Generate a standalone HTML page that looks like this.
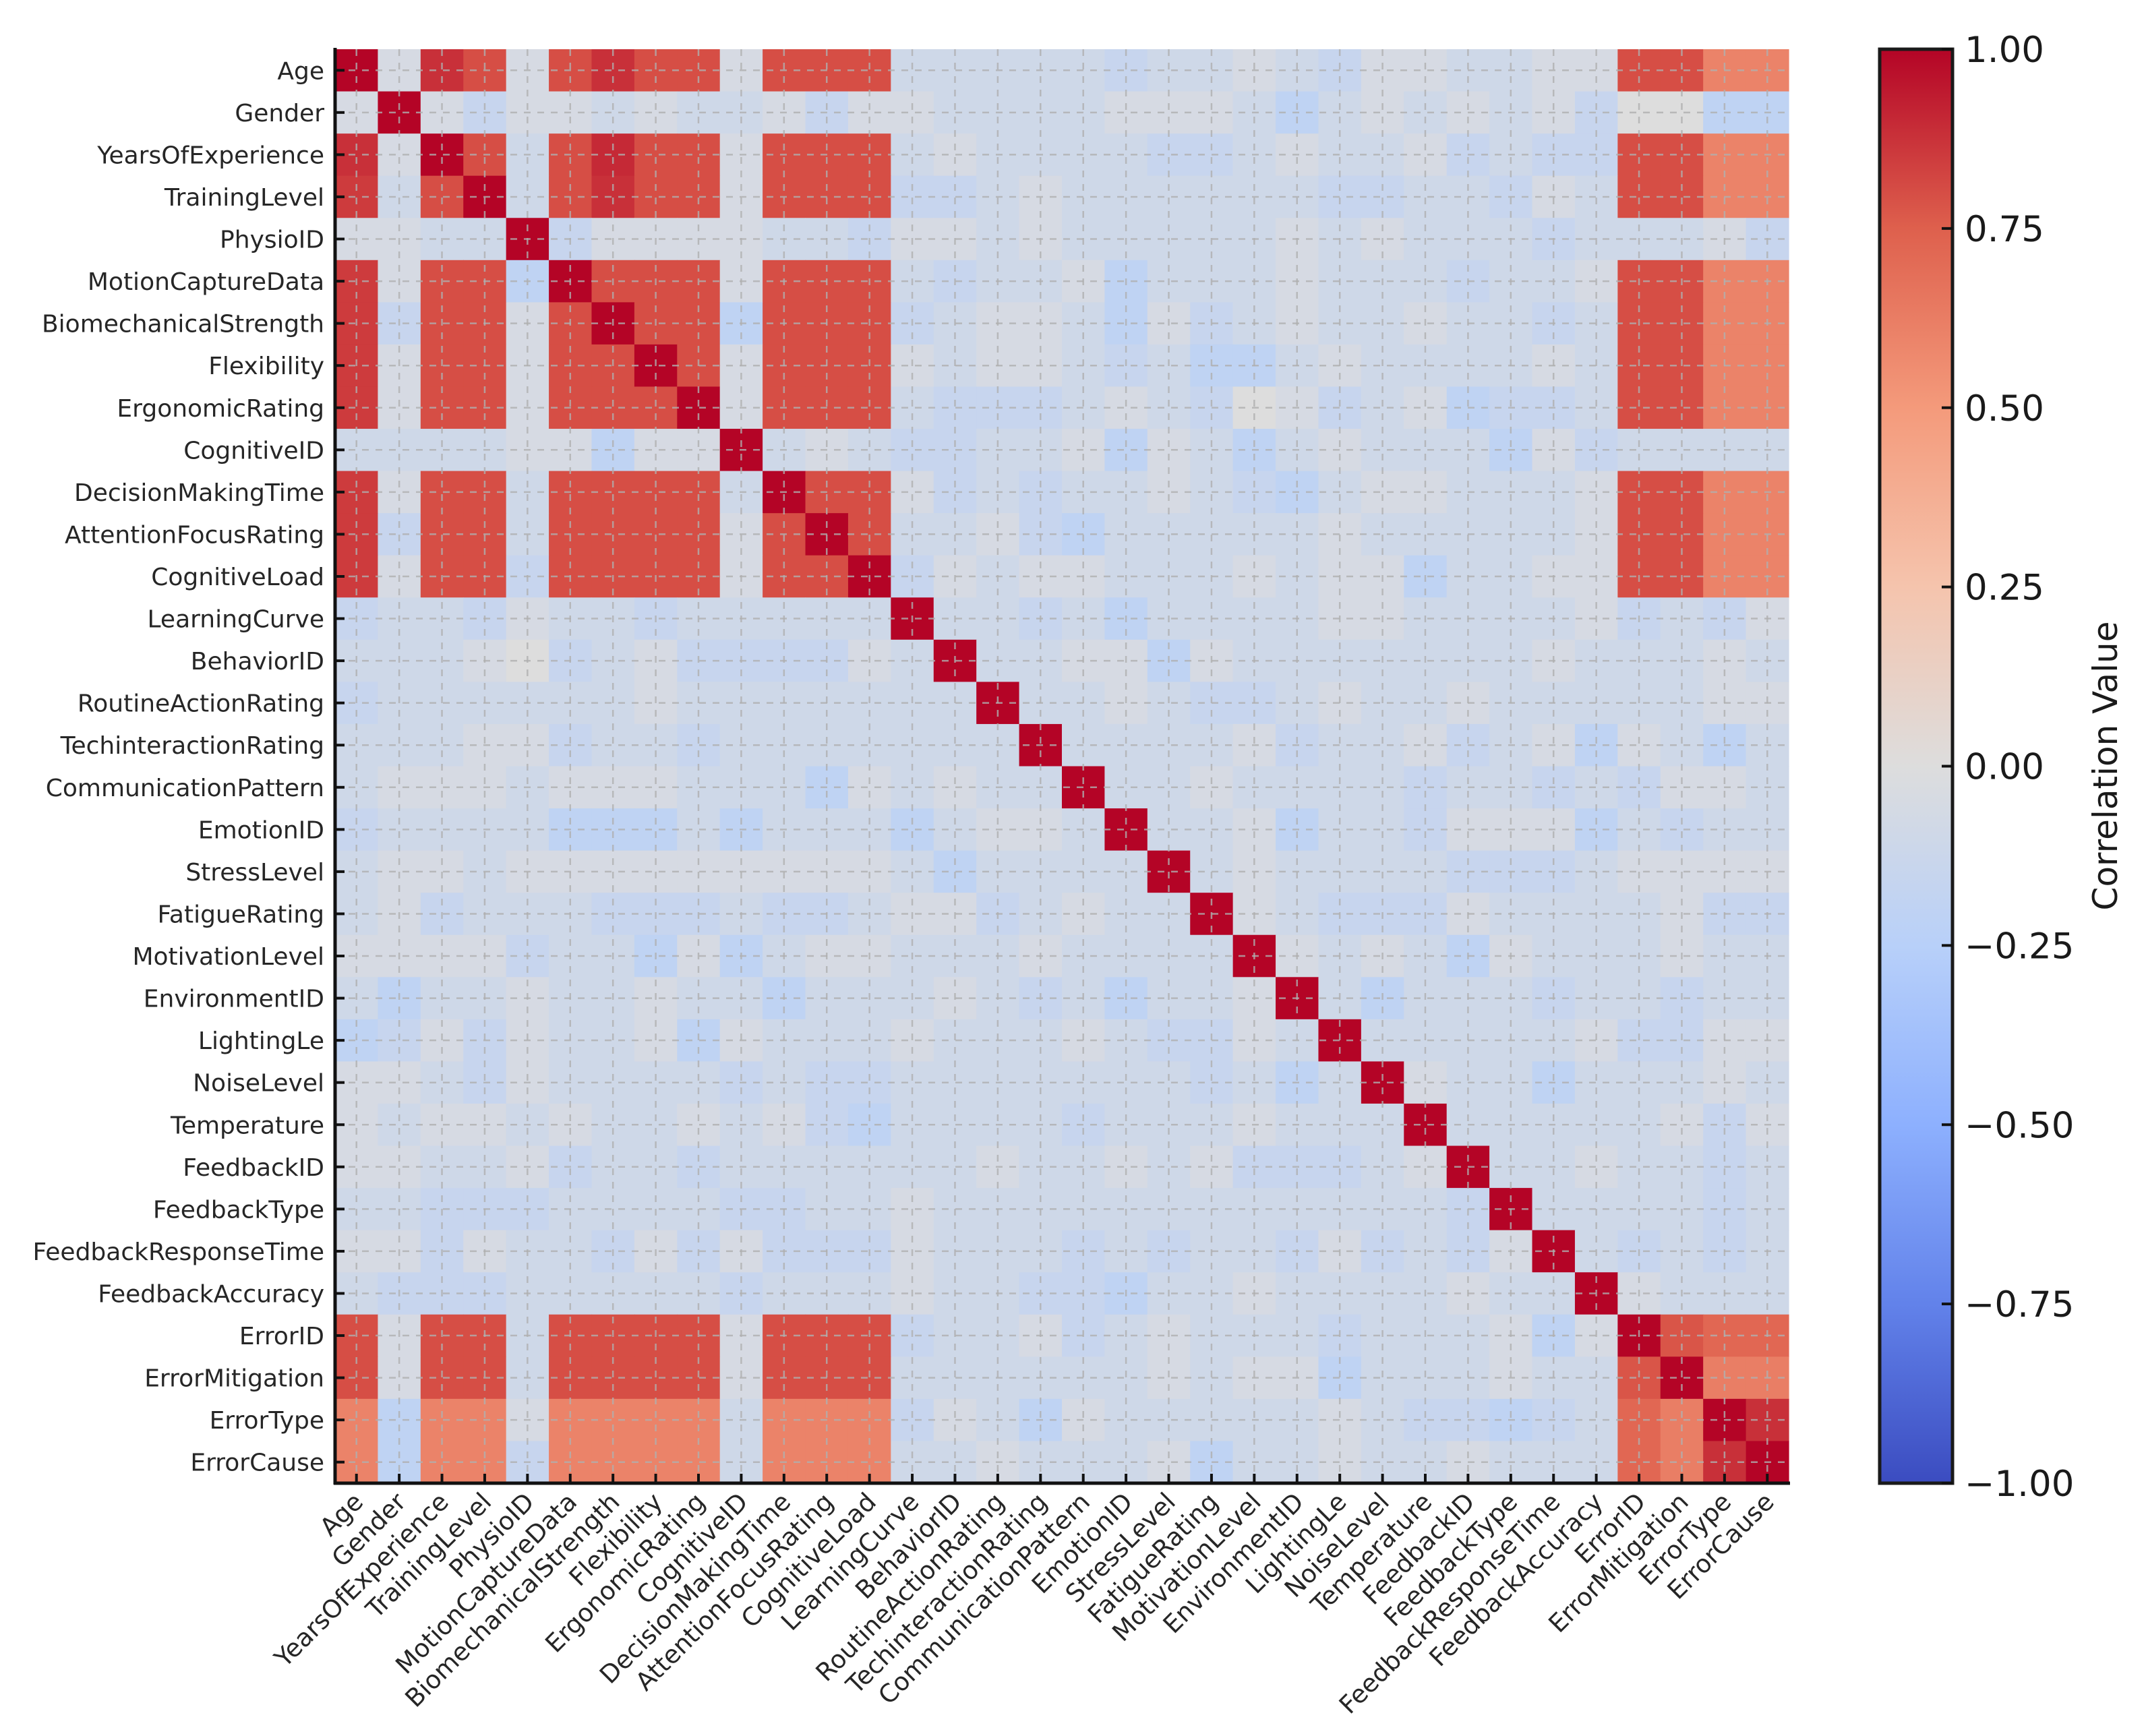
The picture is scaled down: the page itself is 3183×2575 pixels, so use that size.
<!DOCTYPE html>
<html><head><meta charset="utf-8"><style>
html,body{margin:0;padding:0;background:#fff}
svg{display:block;font-family:"DejaVu Sans","Liberation Sans",sans-serif}
</style></head><body>
<svg id="chart" width="3183" height="2575" xmlns="http://www.w3.org/2000/svg">
<defs>
<linearGradient id="cbgrad" x1="0" y1="1" x2="0" y2="0">
<stop offset="0" stop-color="rgb(59,76,192)"/>
<stop offset="0.125" stop-color="rgb(98,130,234)"/>
<stop offset="0.25" stop-color="rgb(141,176,254)"/>
<stop offset="0.375" stop-color="rgb(184,208,249)"/>
<stop offset="0.5" stop-color="rgb(221,221,221)"/>
<stop offset="0.625" stop-color="rgb(245,196,173)"/>
<stop offset="0.75" stop-color="rgb(244,154,123)"/>
<stop offset="0.875" stop-color="rgb(222,96,77)"/>
<stop offset="1" stop-color="rgb(180,4,38)"/>
</linearGradient>
</defs>
<g id="cells"></g>
<g id="grid"></g>
<g id="axes"></g>
<g id="cbar"></g>
</svg>
<script>
const labels = ["Age","Gender","YearsOfExperience","TrainingLevel","PhysioID","MotionCaptureData","BiomechanicalStrength","Flexibility","ErgonomicRating","CognitiveID","DecisionMakingTime","AttentionFocusRating","CognitiveLoad","LearningCurve","BehaviorID","RoutineActionRating","TechinteractionRating","CommunicationPattern","EmotionID","StressLevel","FatigueRating","MotivationLevel","EnvironmentID","LightingLe","NoiseLevel","Temperature","FeedbackID","FeedbackType","FeedbackResponseTime","FeedbackAccuracy","ErrorID","ErrorMitigation","ErrorType","ErrorCause"];
const colorbarTicks = [1.00,0.75,0.50,0.25,0.00,-0.25,-0.50,-0.75,-1.00];
const corr = [
[1,-.05,.88,.8,-.05,.8,.88,.8,.8,-.05,.8,.8,.8,-.1,-.1,-.1,-.1,-.1,-.15,-.1,-.1,-.05,-.1,-.15,-.05,-.05,-.1,-.1,-.05,-.05,.8,.8,.6,.6],
[-.05,1,-.05,-.15,-.05,-.05,-.1,-.05,-.1,-.1,-.05,-.15,-.05,-.05,-.1,-.1,-.1,-.1,-.05,-.05,-.05,-.1,-.2,-.1,-.05,-.1,-.05,-.1,-.05,-.15,0,0,-.2,-.2],
[.88,-.05,1,.8,-.1,.8,.9,.8,.8,-.05,.8,.8,.8,-.1,-.05,-.1,-.1,-.1,-.1,-.15,-.15,-.1,-.05,-.1,-.1,-.05,-.15,-.1,-.15,-.15,.8,.8,.6,.6],
[.85,-.1,.8,1,-.1,.8,.88,.8,.8,-.05,.8,.8,.8,-.15,-.15,-.1,-.05,-.1,-.1,-.1,-.1,-.1,-.1,-.15,-.15,-.1,-.1,-.15,-.05,-.1,.8,.8,.6,.6],
[-.05,-.05,-.1,-.1,1,-.15,-.05,-.05,-.05,-.05,-.1,-.1,-.15,-.05,-.05,-.1,-.05,-.1,-.1,-.1,-.1,-.1,-.05,-.1,-.05,-.1,-.1,-.1,-.15,-.1,-.1,-.1,-.05,-.15],
[.85,-.05,.8,.8,-.2,1,.8,.8,.8,-.05,.8,.8,.8,-.1,-.15,-.1,-.1,-.05,-.2,-.1,-.1,-.1,-.05,-.1,-.1,-.1,-.15,-.1,-.1,-.05,.8,.8,.6,.6],
[.85,-.15,.8,.8,-.05,.8,1,.8,.8,-.2,.8,.8,.8,-.15,-.1,-.05,-.05,-.1,-.2,-.05,-.15,-.1,-.05,-.1,-.1,-.05,-.1,-.1,-.15,-.1,.8,.8,.6,.6],
[.85,-.05,.8,.8,-.05,.8,.8,1,.8,-.05,.8,.8,.8,-.05,-.1,-.05,-.05,-.1,-.15,-.1,-.2,-.2,-.1,-.05,-.1,-.1,-.1,-.1,-.05,-.1,.8,.8,.6,.6],
[.85,-.05,.8,.8,-.05,.8,.8,.8,1,-.05,.8,.8,.8,-.1,-.15,-.15,-.15,-.1,-.05,-.1,-.15,0,-.05,-.15,-.1,-.05,-.2,-.15,-.15,-.1,.8,.8,.6,.6],
[-.1,-.1,-.1,-.1,-.05,-.05,-.2,-.05,-.05,1,-.1,-.05,-.1,-.15,-.15,-.1,-.1,-.05,-.2,-.05,-.1,-.2,-.1,-.05,-.1,-.1,-.1,-.2,-.05,-.15,-.1,-.1,-.1,-.1],
[.85,-.05,.8,.8,-.1,.8,.8,.8,.8,-.1,1,.8,.8,-.05,-.15,-.1,-.15,-.1,-.1,-.05,-.1,-.15,-.2,-.1,-.05,-.05,-.1,-.1,-.1,-.05,.8,.8,.6,.6],
[.85,-.15,.8,.8,-.1,.8,.8,.8,.8,-.05,.8,1,.8,-.1,-.1,-.05,-.15,-.2,-.1,-.1,-.1,-.1,-.1,-.05,-.1,-.1,-.1,-.1,-.1,-.05,.8,.8,.6,.6],
[.85,-.05,.8,.8,-.15,.8,.8,.8,.8,-.05,.8,.8,1,-.15,-.05,-.1,-.05,-.05,-.1,-.1,-.1,-.05,-.1,-.05,-.05,-.2,-.1,-.1,-.05,-.05,.8,.8,.6,.6],
[-.15,-.1,-.1,-.15,-.05,-.1,-.1,-.15,-.1,-.1,-.1,-.1,-.1,1,-.1,-.1,-.15,-.1,-.2,-.1,-.1,-.1,-.1,-.05,-.05,-.1,-.1,-.1,-.1,-.05,-.15,-.1,-.15,-.05],
[-.1,-.1,-.1,-.05,0,-.15,-.1,-.05,-.15,-.15,-.15,-.15,-.05,-.1,1,-.1,-.1,-.05,-.05,-.2,-.05,-.1,-.1,-.1,-.1,-.1,-.1,-.1,-.05,-.1,-.1,-.1,-.05,-.1],
[-.15,-.1,-.1,-.1,-.1,-.1,-.1,-.05,-.1,-.1,-.1,-.1,-.1,-.1,-.1,1,-.1,-.1,-.05,-.1,-.15,-.15,-.1,-.05,-.1,-.1,-.05,-.1,-.1,-.1,-.1,-.1,-.05,-.05],
[-.1,-.1,-.1,-.05,-.05,-.15,-.1,-.1,-.15,-.1,-.1,-.1,-.1,-.1,-.1,-.1,1,-.1,-.1,-.1,-.1,-.05,-.15,-.1,-.1,-.05,-.15,-.1,-.05,-.2,-.05,-.1,-.2,-.1],
[-.1,-.05,-.05,-.05,-.1,-.05,-.05,-.05,-.1,-.1,-.1,-.2,-.05,-.1,-.05,-.1,-.1,1,-.1,-.1,-.05,-.1,-.1,-.1,-.1,-.15,-.1,-.1,-.15,-.1,-.15,-.05,-.05,-.1],
[-.15,-.1,-.1,-.1,-.1,-.2,-.2,-.2,-.1,-.2,-.1,-.1,-.1,-.2,-.1,-.05,-.05,-.1,1,-.1,-.1,-.05,-.2,-.1,-.1,-.15,-.05,-.05,-.05,-.2,-.1,-.15,-.1,-.1],
[-.1,-.05,-.05,-.1,-.05,-.05,-.05,-.05,-.05,-.05,-.05,-.05,-.05,-.1,-.2,-.1,-.1,-.1,-.1,1,-.1,-.05,-.1,-.1,-.1,-.1,-.15,-.15,-.15,-.1,-.05,-.05,-.05,-.05],
[-.1,-.05,-.15,-.1,-.1,-.1,-.15,-.15,-.15,-.1,-.15,-.15,-.1,-.05,-.05,-.15,-.1,-.05,-.1,-.1,1,-.05,-.1,-.15,-.15,-.15,-.05,-.1,-.1,-.1,-.1,-.05,-.15,-.15],
[-.05,-.05,-.05,-.05,-.15,-.1,-.1,-.2,-.05,-.2,-.1,-.05,-.05,-.1,-.1,-.1,-.05,-.1,-.1,-.1,-.1,1,-.05,-.1,-.05,-.1,-.2,-.05,-.1,-.1,-.1,-.05,-.1,-.1],
[-.1,-.2,-.1,-.1,-.05,-.1,-.1,-.05,-.1,-.1,-.2,-.1,-.1,-.1,-.05,-.1,-.15,-.1,-.2,-.1,-.1,-.05,1,-.1,-.2,-.1,-.1,-.1,-.15,-.1,-.1,-.15,-.1,-.1],
[-.2,-.15,-.05,-.15,-.05,-.1,-.1,-.05,-.2,-.05,-.1,-.1,-.1,-.05,-.1,-.1,-.1,-.05,-.1,-.15,-.15,-.05,-.1,1,-.1,-.1,-.1,-.1,-.1,-.05,-.15,-.15,-.05,-.05],
[-.05,-.05,-.1,-.15,-.05,-.1,-.1,-.1,-.1,-.15,-.1,-.15,-.15,-.1,-.1,-.1,-.1,-.1,-.1,-.1,-.15,-.1,-.2,-.1,1,-.05,-.1,-.1,-.2,-.1,-.1,-.1,-.05,-.1],
[-.05,-.1,-.05,-.05,-.1,-.05,-.1,-.1,-.05,-.1,-.05,-.15,-.2,-.1,-.1,-.1,-.1,-.15,-.1,-.1,-.1,-.05,-.1,-.1,-.1,1,-.1,-.1,-.1,-.1,-.1,-.05,-.15,-.05],
[-.05,-.05,-.1,-.1,-.05,-.15,-.1,-.1,-.15,-.1,-.1,-.1,-.1,-.1,-.1,-.05,-.1,-.1,-.05,-.1,-.05,-.15,-.15,-.15,-.1,-.05,1,-.1,-.1,-.05,-.1,-.1,-.15,-.1],
[-.1,-.1,-.15,-.15,-.15,-.1,-.1,-.1,-.1,-.15,-.15,-.1,-.1,-.05,-.1,-.1,-.1,-.1,-.1,-.1,-.1,-.1,-.1,-.1,-.1,-.1,-.15,1,-.1,-.1,-.1,-.1,-.15,-.1],
[-.05,-.05,-.15,-.05,-.1,-.1,-.15,-.05,-.15,-.05,-.15,-.15,-.15,-.05,-.1,-.1,-.1,-.15,-.1,-.15,-.1,-.1,-.15,-.05,-.15,-.1,-.15,-.05,1,-.1,-.15,-.1,-.15,-.1],
[-.1,-.15,-.15,-.15,-.1,-.1,-.1,-.1,-.1,-.15,-.1,-.1,-.1,-.05,-.1,-.1,-.15,-.15,-.2,-.1,-.1,-.05,-.1,-.1,-.1,-.1,-.05,-.1,-.1,1,-.05,-.1,-.1,-.1],
[.8,-.05,.8,.8,-.1,.8,.8,.8,.8,-.05,.8,.8,.8,-.15,-.1,-.1,-.05,-.15,-.1,-.05,-.1,-.1,-.1,-.15,-.1,-.1,-.1,-.05,-.2,-.05,1,.78,.72,.72],
[.8,-.05,.8,.8,-.1,.8,.8,.8,.8,-.05,.8,.8,.8,-.1,-.1,-.1,-.1,-.1,-.1,-.05,-.1,-.05,-.05,-.2,-.1,-.1,-.1,-.05,-.1,-.1,.78,1,.62,.62],
[.6,-.2,.6,.6,-.05,.6,.6,.6,.6,-.1,.6,.6,.6,-.15,-.05,-.1,-.2,-.05,-.1,-.1,-.1,-.1,-.1,-.05,-.1,-.15,-.15,-.2,-.15,-.1,.72,.62,1,.88],
[.6,-.2,.6,.6,-.15,.6,.6,.6,.6,-.1,.6,.6,.6,-.1,-.1,-.05,-.1,-.1,-.1,-.05,-.2,-.1,-.1,-.05,-.1,-.1,-.05,-.1,-.1,-.1,.72,.62,.88,1]
];

const NS = "http://www.w3.org/2000/svg";
const L = 497, T = 73, R = 2653, B = 2200;
const n = labels.length;
const cw = (R - L) / n, ch = (B - T) / n;
const xPos = i => L + i * cw;
const yPos = i => T + i * ch;
const CB = {x0: 2788, x1: 2896, y0: 73, y1: 2200};
const cbY = v => CB.y0 + (1 - v) / 2 * (CB.y1 - CB.y0);

const stops = [[59,76,192],[98,130,234],[141,176,254],[184,208,249],[221,221,221],[245,196,173],[244,154,123],[222,96,77],[180,4,38]];
function color(v) {
  const t = Math.max(0, Math.min(1, (v + 1) / 2)) * 8;
  const i = Math.min(7, Math.floor(t)), f = t - i;
  const a = stops[i], b = stops[i + 1];
  return "rgb(" + [0,1,2].map(k => Math.round(a[k] + (b[k] - a[k]) * f)).join(",") + ")";
}
function mk(tag, attrs, parent) {
  const e = document.createElementNS(NS, tag);
  for (const k in attrs) e.setAttribute(k, attrs[k]);
  parent.appendChild(e);
  return e;
}
const gCells = document.getElementById("cells");
const gGrid = document.getElementById("grid");
const gAxes = document.getElementById("axes");
const gCb = document.getElementById("cbar");

for (let r = 0; r < n; r++) {
  for (let c = 0; c < n; c++) {
    const el = mk("rect", {x: xPos(c), y: yPos(r), width: cw + 0.6, height: ch + 0.6, fill: color(corr[r][c])}, gCells);
    
    
  }
}
for (let i = 0; i < n; i++) {
  const cx = xPos(i) + cw / 2, cy = yPos(i) + ch / 2;
  const gv = mk("line", {x1: cx, y1: T, x2: cx, y2: B, stroke: "#b0b0b0", "stroke-width": 2.5, "stroke-dasharray": "10,10", opacity: 0.8}, gGrid);
  
  
  const gh = mk("line", {x1: L, y1: cy, x2: R, y2: cy, stroke: "#b0b0b0", "stroke-width": 2.5, "stroke-dasharray": "10,10", opacity: 0.8}, gGrid);
  
  
  mk("line", {x1: L, y1: cy, x2: L + 14, y2: cy, stroke: "#111", "stroke-width": 4}, gAxes);
  const yl = mk("text", {x: L - 16, y: cy + 13, "text-anchor": "end", "font-size": 36, fill: "#262626"}, gAxes);
  yl.textContent = labels[i];
  
  
  mk("line", {x1: cx, y1: B, x2: cx, y2: B - 14, stroke: "#111", "stroke-width": 4}, gAxes);
  const ax = cx + 12, ay = B + 30;
  const xl = mk("text", {x: ax, y: ay, "text-anchor": "end", "font-size": 37, fill: "#262626", transform: "rotate(-45 " + ax + " " + ay + ")"}, gAxes);
  xl.textContent = labels[i];
  
  
}
const sl = mk("line", {x1: L, y1: T - 2, x2: L, y2: B + 2, stroke: "#111", "stroke-width": 5}, gAxes);


const sb = mk("line", {x1: L - 2, y1: B, x2: R + 2, y2: B, stroke: "#111", "stroke-width": 5}, gAxes);



const cbr = mk("rect", {x: CB.x0, y: CB.y0, width: CB.x1 - CB.x0, height: CB.y1 - CB.y0, fill: "url(#cbgrad)", stroke: "#1a1a1a", "stroke-width": 5}, gCb);


colorbarTicks.forEach(v => {
  const y = cbY(v);
  mk("line", {x1: CB.x1 - 16, y1: y, x2: CB.x1, y2: y, stroke: "#111", "stroke-width": 4}, gCb);
  const t = mk("text", {x: CB.x1 + 18, y: y + 19, "font-size": 53, fill: "#1a1a1a"}, gCb);
  t.textContent = (v < 0 ? "\u2212" : "") + Math.abs(v).toFixed(2);
  
  
});
const cl = mk("text", {x: 3140, y: 1136, "text-anchor": "middle", "font-size": 50, fill: "#1a1a1a", transform: "rotate(-90 3140 1136)"}, gCb);
cl.textContent = "Correlation Value";


</script>
</body></html>
